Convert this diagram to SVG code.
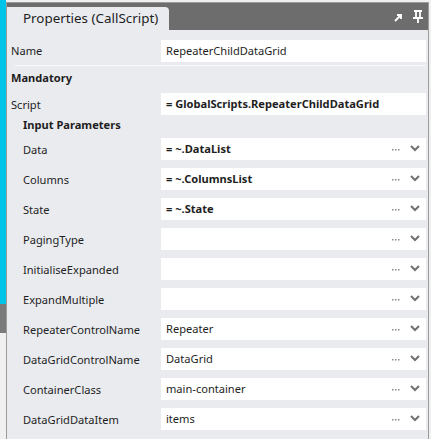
<svg xmlns="http://www.w3.org/2000/svg" width="431" height="439" viewBox="0 0 431 439">
<defs>
<style>
.lbl{font-family:"Segoe UI","Noto Sans","Liberation Sans",sans-serif;font-size:11.1px;fill:#1e1e1e}
.b{font-weight:bold}
.box{fill:#ffffff}
.ell{fill:#8a8a8a}
.chev{fill:none;stroke:#707070;stroke-width:2}
</style>
<g id="chev"><path class="chev" d="M0,0 L4,4 L8,0"/></g>
<g id="dots"><rect x="0" y="0" width="1.5" height="1.5" class="ell"/><rect x="3" y="0" width="1.5" height="1.5" class="ell"/><rect x="6" y="0" width="1.5" height="1.5" class="ell"/></g>
</defs>
<rect x="0" y="0" width="431" height="439" fill="#f0f0f0"/>
<rect x="0" y="0" width="6" height="304" fill="#00c4e8"/>
<rect x="0" y="304" width="6" height="29" fill="#7a7a7a"/>
<rect x="7" y="3" width="421" height="436" fill="#e9ebef"/>
<rect x="6.5" y="2.5" width="422" height="440" fill="none" stroke="#9a9a9a" stroke-width="1"/>
<g id="header">
<rect x="7" y="3" width="421" height="27" fill="#6d6d6d"/>
<path d="M7,30 V7 H165 Q169,7 169,11 V30 Z" fill="#e9ebef"/>
<text x="23" y="23" font-family="'Segoe UI','Noto Sans','Liberation Sans',sans-serif" font-size="13.4" fill="#1e1e1e">Properties (CallScript)</text>
<path d="M395,21 L401,15 M397,15 H401 V19" stroke="#ffffff" stroke-width="1.8" fill="none"/>
<path d="M414,11 H422 M416,11 V18 M420,11 V18 M413,18 H423 M418,18 V23" stroke="#ffffff" stroke-width="1.8" fill="none"/>
</g>
<g id="name">
<text class="lbl" x="11" y="55">Name</text>
<rect class="box" x="161" y="40" width="265" height="22"/>
<text class="lbl" x="166" y="55">RepeaterChildDataGrid</text>
<line x1="15" y1="65.5" x2="426" y2="65.5" stroke="#fafafa"/>
</g>
<g id="mandatory"><text class="lbl b" x="11" y="82">Mandatory</text></g>
<g id="script">
<text class="lbl" x="11" y="109">Script</text>
<rect class="box" x="161" y="93" width="265" height="22"/>
<text class="lbl b" x="166" y="108">= GlobalScripts.RepeaterChildDataGrid</text>
</g>
<g id="inputparams"><text class="lbl b" x="23" y="129" font-size="10.8">Input Parameters</text></g>
<g id="data">
<text class="lbl" x="23" y="154">Data</text>
<rect class="box" x="161" y="138" width="265" height="22"/>
<text class="lbl b" x="166" y="153">= ~.DataList</text>
<use href="#dots" x="392" y="149"/><use href="#chev" x="411" y="146"/>
</g>
<g id="columns">
<text class="lbl" x="23" y="184">Columns</text>
<rect class="box" x="161" y="168" width="265" height="22"/>
<text class="lbl b" x="166" y="183">= ~.ColumnsList</text>
<use href="#dots" x="392" y="179"/><use href="#chev" x="411" y="176"/>
</g>
<g id="state">
<text class="lbl" x="23" y="214">State</text>
<rect class="box" x="161" y="198" width="265" height="22"/>
<text class="lbl b" x="166" y="213">= ~.State</text>
<use href="#dots" x="392" y="209"/><use href="#chev" x="411" y="206"/>
</g>
<g id="pagingtype">
<text class="lbl" x="23" y="244">PagingType</text>
<rect class="box" x="161" y="228" width="265" height="22"/>
<use href="#dots" x="392" y="239"/><use href="#chev" x="411" y="236"/>
</g>
<g id="initialiseexpanded">
<text class="lbl" x="23" y="274">InitialiseExpanded</text>
<rect class="box" x="161" y="258" width="265" height="22"/>
<use href="#dots" x="392" y="269"/><use href="#chev" x="411" y="266"/>
</g>
<g id="expandmultiple">
<text class="lbl" x="23" y="304">ExpandMultiple</text>
<rect class="box" x="161" y="288" width="265" height="22"/>
<use href="#dots" x="392" y="299"/><use href="#chev" x="411" y="296"/>
</g>
<g id="repeatercontrolname">
<text class="lbl" x="23" y="334">RepeaterControlName</text>
<rect class="box" x="161" y="318" width="265" height="22"/>
<text class="lbl" x="166" y="333">Repeater</text>
<use href="#dots" x="392" y="329"/><use href="#chev" x="411" y="326"/>
</g>
<g id="datagridcontrolname">
<text class="lbl" x="23" y="364">DataGridControlName</text>
<rect class="box" x="161" y="348" width="265" height="22"/>
<text class="lbl" x="166" y="363">DataGrid</text>
<use href="#dots" x="392" y="359"/><use href="#chev" x="411" y="356"/>
</g>
<g id="containerclass">
<text class="lbl" x="23" y="394">ContainerClass</text>
<rect class="box" x="161" y="378" width="265" height="22"/>
<text class="lbl" x="166" y="393">main-container</text>
<use href="#dots" x="392" y="389"/><use href="#chev" x="411" y="386"/>
</g>
<g id="datagriddataitem">
<text class="lbl" x="23" y="424">DataGridDataItem</text>
<rect class="box" x="161" y="408" width="265" height="22"/>
<text class="lbl" x="166" y="423">items</text>
<use href="#dots" x="392" y="419"/><use href="#chev" x="411" y="416"/>
</g>
<g id="connectors"></g>
</svg>
